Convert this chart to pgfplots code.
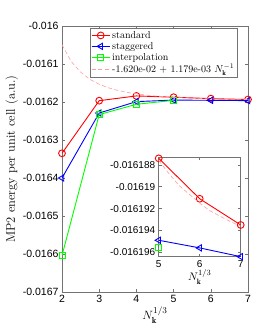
\documentclass[border=0pt]{standalone}
\usepackage{fontspec}
\usepackage{pgfplots}
\pgfplotsset{compat=1.18}
\newfontfamily\tickfont{Liberation Sans}
\definecolor{mred}{rgb}{1,0,0}
\definecolor{mblue}{rgb}{0,0,1}
\definecolor{mgreen}{rgb}{0,1,0}
\definecolor{fitc}{rgb}{1,0.62,0.62}
\definecolor{axc}{rgb}{0.45,0.45,0.45}
\pgfplotstableread{
x y
2 -0.016335
3 -0.0161965
4 -0.016184
5 -0.0161874
6 -0.0161911
7 -0.0161935
}\standard
\pgfplotstableread{
x y
2 -0.0164
3 -0.016229
4 -0.016199
5 -0.0161949
6 -0.0161956
7 -0.0161964
}\staggered
\pgfplotstableread{
x y
2 -0.016604
3 -0.016233
4 -0.016206
5 -0.0161956
}\interp
\pgfplotstableread{
x y
2 -0.0160496
2.25 -0.0160935
2.5 -0.0161215
2.75 -0.0161403
3 -0.0161533
3.25 -0.0161627
3.5 -0.0161695
3.75 -0.0161746
4 -0.0161786
4.5 -0.0161841
5 -0.0161876
5.5 -0.0161899
6 -0.0161915
6.5 -0.0161927
7 -0.0161936
}\fit
\pgfplotstableread{
x y
5 -0.0161876
5.25 -0.0161888
5.5 -0.0161899
5.75 -0.0161907
6 -0.0161915
6.25 -0.0161922
6.5 -0.0161927
6.75 -0.0161932
7 -0.0161936
}\fitin
\begin{document}
\begin{tikzpicture}
\path[use as bounding box] (-62pt,-37pt) rectangle (212pt,292pt);
\begin{axis}[
  scale only axis, width=186pt, height=266pt,
  xmin=2, xmax=7, ymin=-0.0167, ymax=-0.016,
  scaled y ticks=false, scaled x ticks=false,
  xtick={2,3,4,5,6,7},
  xticklabels={2,3,4,5,6,7},
  ytick={-0.0167,-0.0166,-0.0165,-0.0164,-0.0163,-0.0162,-0.0161,-0.016},
  yticklabels={-0.0167,-0.0166,-0.0165,-0.0164,-0.0163,-0.0162,-0.0161,-0.016},
  ticklabel style={font=\tickfont\fontsize{10.5}{12}\selectfont},
  tick align=inside, major tick length=3pt,
  axis line style={axc, line width=0.5pt},
  every tick/.style={axc, line width=0.5pt},
  xlabel={$N_{\mathbf{k}}^{1/3}$},
  ylabel={MP2 energy per unit cell (a.u.)},
  label style={font=\fontsize{12.5}{14}\selectfont},
  ylabel style={yshift=-2pt},
  xlabel style={yshift=3pt},
  clip mode=individual,
  legend cell align=left,
  legend style={at={(0.151,0.9925)}, anchor=north west, draw=axc,
    font=\fontsize{10}{12}\selectfont, inner sep=1pt, row sep=-1.5pt},
  legend image code/.code={
    \draw[mark repeat=2,mark phase=2] plot coordinates {(0pt,0pt) (9pt,0pt) (18pt,0pt)};
  },
]
\addplot[mred, line width=0.9pt, mark=o, mark size=3.4pt] table {\standard};
\addlegendentry{standard}
\addplot[mblue, line width=0.9pt, mark=triangle, mark size=3.6pt, mark options={rotate=90}] table {\staggered};
\addlegendentry{staggered}
\addplot[mgreen, line width=0.9pt, mark=square, mark size=3pt] table {\interp};
\addlegendentry{interpolation}
\addplot[fitc, line width=0.6pt, dash pattern=on 4pt off 2.5pt] table {\fit};
\addlegendentry{-1.620e-02 + 1.179e-03 $N_{\mathbf{k}}^{-1}$}
\end{axis}
\begin{axis}[
  at={(96.7pt,35.3pt)}, anchor=south west,
  scale only axis, width=82pt, height=99.4pt,
  axis background/.style={fill=white},
  xmin=5, xmax=7, ymin=-0.0161964, ymax=-0.0161873,
  scaled y ticks=false, scaled x ticks=false,
  xtick={5,6,7}, xticklabels={5,6,7},
  ytick={-0.016196,-0.016194,-0.016192,-0.01619,-0.016188},
  yticklabels={-0.016196,-0.016194,-0.016192,-0.01619,-0.016188},
  ticklabel style={font=\tickfont\fontsize{10}{12}\selectfont},
  tick align=inside, major tick length=3pt,
  axis line style={axc, line width=0.5pt},
  every tick/.style={axc, line width=0.5pt},
  xlabel={$N_{\mathbf{k}}^{1/3}$},
  label style={font=\fontsize{11}{13}\selectfont},
  xlabel style={yshift=5pt},
  clip mode=individual,
]
\addplot[mred, line width=0.9pt, mark=o, mark size=3.4pt] table {\standard};
\addplot[mblue, line width=0.9pt, mark=triangle, mark size=3.6pt, mark options={rotate=90}] table {\staggered};
\addplot[mgreen, line width=0.9pt, mark=square, mark size=3pt] table {\interp};
\addplot[fitc, line width=0.6pt, dash pattern=on 4pt off 2.5pt] table {\fitin};
\end{axis}
\end{tikzpicture}
\end{document}
